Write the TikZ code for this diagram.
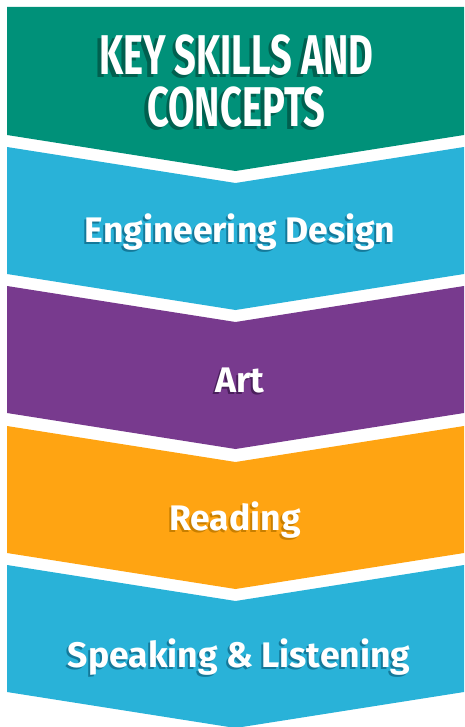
\documentclass[tikz,border=0pt]{standalone}
\usepackage{fontspec}
\setmainfont{Fira Sans}
\newfontfamily\headfont[FakeStretch=0.68]{Fira Sans}
\usepackage{tikz}

\definecolor{bandgreen}{HTML}{009179}
\definecolor{bandblue}{HTML}{29B2D8}
\definecolor{bandpurple}{HTML}{783A8E}
\definecolor{bandorange}{HTML}{FFA412}
\definecolor{shadegreen}{HTML}{00604F}
\definecolor{shadeblue}{HTML}{14799A}
\definecolor{shadepurple}{HTML}{4A1F5C}
\definecolor{shadeorange}{HTML}{C97F00}

\tikzset{
  bandtext/.style={text=white, inner sep=0pt, font=\bfseries\fontsize{35.5}{40}\selectfont},
  headtext/.style={text=white, inner sep=0pt, align=center, font=\headfont\bfseries\fontsize{56}{52}\selectfont}
}

\begin{document}
\begin{tikzpicture}[x=1pt, y=-1pt]
      \useasboundingbox (0, 0) rectangle (464, 727);

      % chevron bands
      \fill[fill=bandgreen] (7, 7) -- (464, 7) -- (464, 135) -- (235.5, 171) -- (7, 135) -- cycle;
      \fill[fill=bandblue] (7, 147) -- (235.5, 183) -- (464, 147) -- (464, 274) -- (235.5, 310) -- (7, 274) -- cycle;
      \fill[fill=bandpurple] (7, 286) -- (235.5, 322) -- (464, 286) -- (464, 413) -- (235.5, 449) -- (7, 413) -- cycle;
      \fill[fill=bandorange] (7, 426) -- (235.5, 462) -- (464, 426) -- (464, 553) -- (235.5, 589) -- (7, 553) -- cycle;
      \fill[fill=bandblue] (7, 565) -- (235.5, 601) -- (464, 565) -- (464, 692) -- (235.5, 728) -- (7, 692) -- cycle;

      % labels, shadow first
      \node[headtext, text=shadegreen] (headshadow) at (233, 84) {KEY SKILLS AND\\CONCEPTS};
      \node[headtext] (head) at (236.5, 81) {KEY SKILLS AND\\CONCEPTS};

      \node[bandtext, text=shadeblue] (engshadow) at (238, 234.5) {Engineering Design};
      \node[bandtext] (eng) at (240, 232) {Engineering Design};
      \node[bandtext, text=shadepurple] (artshadow) at (237.5, 382.5) {Art};
      \node[bandtext] (art) at (239.5, 380) {Art};
      \node[bandtext, text=shadeorange] (readshadow) at (233, 522.5) {Reading};
      \node[bandtext] (read) at (235, 520) {Reading};
      \node[bandtext, text=shadeblue] (speakshadow) at (237, 659.5) {Speaking \& Listening};
      \node[bandtext] (speak) at (239, 657) {Speaking \& Listening};
    \end{tikzpicture}
\end{document}
